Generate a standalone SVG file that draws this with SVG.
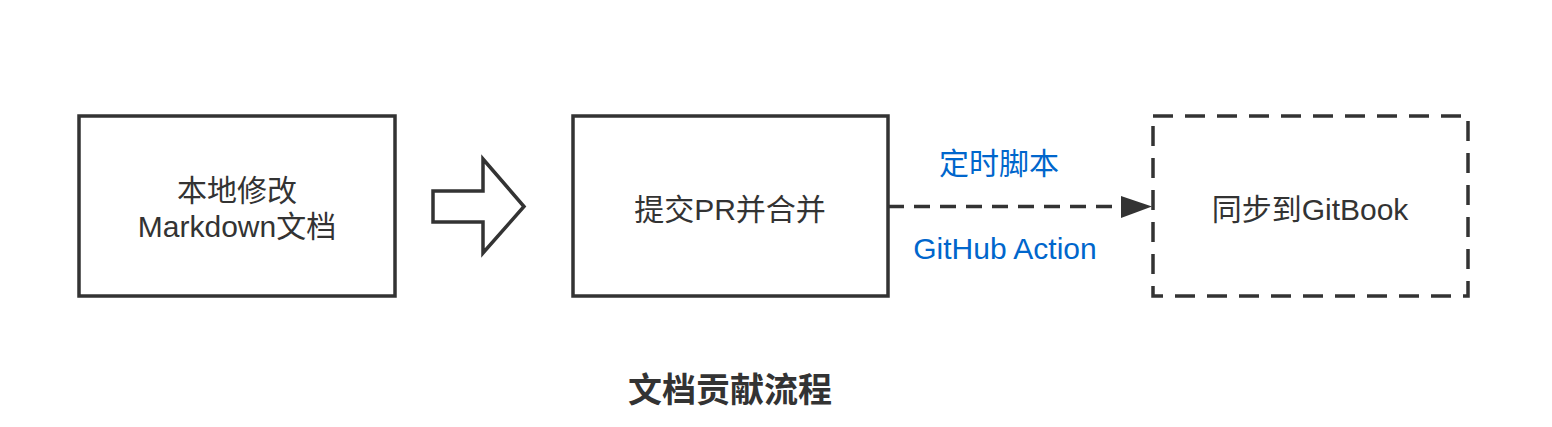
<svg xmlns="http://www.w3.org/2000/svg" width="1552" height="427" viewBox="0 0 1552 427">
<defs>
<style>
.box{fill:#fff;stroke:#333;stroke-width:3.5}
.dash{stroke-dasharray:20 12}
.t{font-family:"Liberation Sans","Noto Sans CJK SC",sans-serif;font-size:30px;fill:#333;text-anchor:middle}
.blue{fill:#0066cc}
.title{font-size:34px;font-weight:bold}
</style>
</defs>
<rect width="1552" height="427" fill="#fff"/>
<g id="node-local">
<rect class="box" x="79" y="116" width="316" height="180"/>
<text class="t" x="237" y="201">本地修改</text>
<text class="t" x="237" y="237">Markdown文档</text>
</g>
<g id="node-pr">
<rect class="box" x="573" y="116" width="315" height="180"/>
<text class="t" x="730" y="220">提交PR并合并</text>
</g>
<g id="node-gitbook">
<rect class="box dash" x="1153" y="116" width="315" height="180"/>
<text class="t" x="1310" y="220">同步到GitBook</text>
</g>
<g id="connectors">
<path d="M433,191 L483,191 L483,159 L524,206.5 L483,253 L483,222 L433,222 Z" fill="#fff" stroke="#333" stroke-width="3.5" stroke-linejoin="miter"/>
<line x1="888" y1="206.5" x2="1121" y2="206.5" stroke="#333" stroke-width="3.5" stroke-dasharray="16 10"/>
<path d="M1121,196 L1152,206.5 L1121,218 Z" fill="#333"/>
<text class="t blue" x="999" y="174">定时脚本</text>
<text class="t blue" x="1005" y="259">GitHub Action</text>
</g>
<g id="title">
<text class="t title" x="730" y="402">文档贡献流程</text>
</g>
</svg>
